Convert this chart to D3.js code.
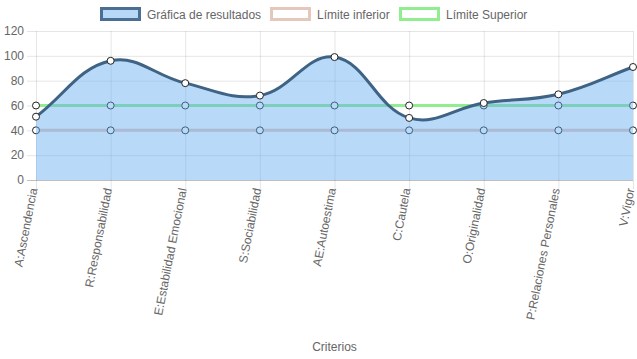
<!DOCTYPE html>
<html><head><meta charset="utf-8">
<script src="https://cdn.jsdelivr.net/npm/d3@7"></script>
<style>html,body{margin:0;padding:0;background:#fff;}svg{display:block;font-family:Arial,"Liberation Sans",Helvetica,sans-serif;}</style>
</head><body>
<svg id="c" width="637" height="359"></svg>
<script>
const categories = ["A:Ascendencia","R:Responsabilidad","E:Estabilidad Emocional","S:Sociabilidad","AE:Autoestima","C:Cautela","O:Originalidad","P:Relaciones Personales","V:Vigor"];
const resultados = [51,96,78,68,99,50,62,69,91];
const limiteInferior = [40,40,40,40,40,40,40,40,40];
const limiteSuperior = [60,60,60,60,60,60,60,60,60];
const yTicks = [0,20,40,60,80,100,120];
const seriesNames = ["Gráfica de resultados","Límite inferior","Límite Superior"];

(function(){
const svg = d3.select("#c");
const cLeft = 36, cRight = 633, cTop = 31, cBottom = 180;
const x = d3.scalePoint().domain(categories).range([cLeft, cRight]);
const y = d3.scaleLinear().domain([0,120]).range([cBottom, cTop]);

const g = svg.append("g");
g.selectAll(".hg").data(yTicks).enter().append("line")
  .attr("x1", cLeft-9).attr("x2", cRight).attr("y1", d=>y(d)+0.5).attr("y2", d=>y(d)+0.5)
  .attr("stroke", d=> d===0 ? "rgba(0,0,0,0.25)" : "rgba(0,0,0,0.1)").attr("stroke-width", 1);
g.selectAll(".vg").data(categories).enter().append("line")
  .attr("x1", d=>x(d)+0.5).attr("x2", d=>x(d)+0.5).attr("y1", cTop).attr("y2", cBottom+9)
  .attr("stroke", "rgba(0,0,0,0.1)").attr("stroke-width", 1);

g.selectAll(".yl").data(yTicks).enter().append("text")
  .attr("x", 24).attr("y", d=>y(d)).attr("dy","0.35em").attr("text-anchor","end")
  .attr("fill","#666").attr("font-size",12).text(d=>d);

g.selectAll(".xl").data(categories).enter().append("text")
  .attr("transform", d=>`translate(${x(d)+1.5},${cBottom+9}) rotate(-79)`)
  .attr("text-anchor","end")
  .attr("fill","#666").attr("font-size",12).text(d=>d);

svg.append("text").attr("x", (cLeft+cRight)/2).attr("y", 351).attr("text-anchor","middle")
  .attr("fill","#666").attr("font-size",12).text("Criterios");

function splinePath(vals){
  const pts = vals.map((v,i)=>({x:x(categories[i]), y:y(v)}));
  const cps = pts.map((p,i)=>{
    const prev = pts[i-1]||p, next = pts[i+1]||p;
    const d01 = Math.hypot(p.x-prev.x,p.y-prev.y), d12 = Math.hypot(next.x-p.x,next.y-p.y);
    let s01 = d01/(d01+d12), s12 = d12/(d01+d12);
    if(isNaN(s01)) s01=0; if(isNaN(s12)) s12=0;
    const t=0.4, fa=t*s01, fb=t*s12;
    return {px:p.x-fa*(next.x-prev.x), py:p.y-fa*(next.y-prev.y), nx:p.x+fb*(next.x-prev.x), ny:p.y+fb*(next.y-prev.y)};
  });
  const cap = v=>Math.max(cTop, Math.min(cBottom, v));
  let d = `M${pts[0].x},${pts[0].y}`;
  for(let i=1;i<pts.length;i++){
    d += `C${cps[i-1].nx},${cap(cps[i-1].ny)} ${cps[i].px},${cap(cps[i].py)} ${pts[i].x},${pts[i].y}`;
  }
  return {d, pts};
}

function drawSeries(vals, color){
  const sp = splinePath(vals);
  const gg = svg.append("g");
  gg.append("path").attr("d", sp.d).attr("fill","none").attr("stroke",color).attr("stroke-width",3);
  gg.selectAll("circle").data(sp.pts).enter().append("circle")
    .attr("cx", d=>d.x).attr("cy", d=>d.y).attr("r",3.5)
    .attr("fill","#fff").attr("stroke","#222").attr("stroke-width",1);
}

drawSeries(limiteSuperior, "rgb(144,238,144)");
drawSeries(limiteInferior, "rgb(228,200,188)");
const sp = splinePath(resultados);
svg.append("path").attr("d", sp.d + `L${x(categories[categories.length-1])},${y(0)}L${x(categories[0])},${y(0)}Z`)
  .attr("fill","rgba(100,170,240,0.45)");
svg.append("path").attr("d", sp.d).attr("fill","none").attr("stroke","#3f6384").attr("stroke-width",3);
svg.selectAll(".rp").data(sp.pts).enter().append("circle")
  .attr("cx", d=>d.x).attr("cy", d=>d.y).attr("r",3.5)
  .attr("fill","#fff").attr("stroke","#222").attr("stroke-width",1);

const legend = [
  {name:seriesNames[0], x:100, fill:"rgb(183,216,247)", stroke:"#4a6f93"},
  {name:seriesNames[1], x:270, fill:"#fff", stroke:"rgb(228,200,188)"},
  {name:seriesNames[2], x:399, fill:"#fff", stroke:"rgb(144,238,144)"}
];
const lg = svg.append("g");
legend.forEach(l=>{
  lg.append("rect").attr("x", l.x+1.5).attr("y", 8.5).attr("width", 38).attr("height", 11)
    .attr("fill", l.fill).attr("stroke", l.stroke).attr("stroke-width", 3);
  lg.append("text").attr("x", l.x+47).attr("y", 15).attr("dy","0.35em")
    .attr("fill","#666").attr("font-size",12).text(l.name);
});
})();
</script>
</body></html>
